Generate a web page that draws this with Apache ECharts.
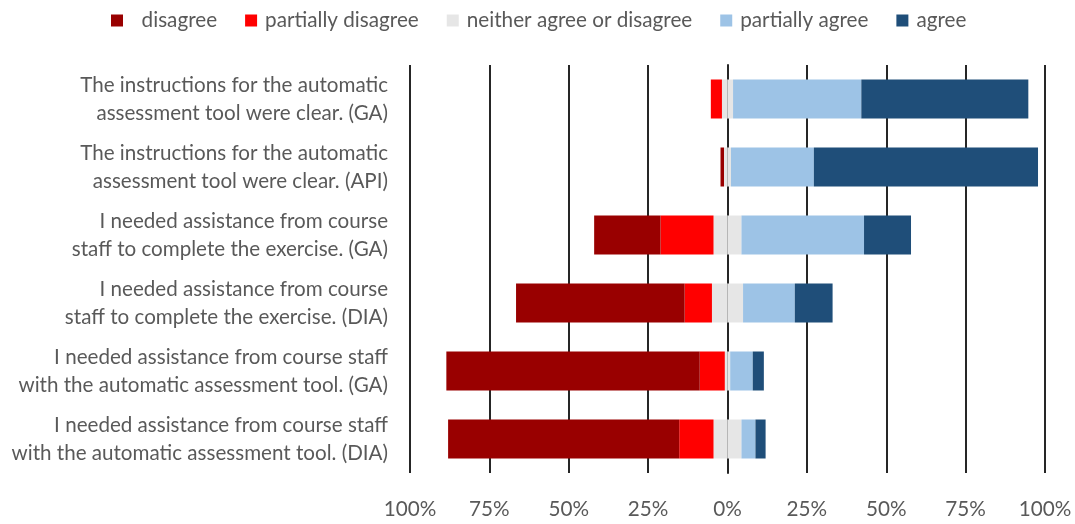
<!DOCTYPE html>
<html>
<head>
<meta charset="utf-8">
<script src="https://cdn.jsdelivr.net/npm/echarts@6/dist/echarts.min.js"></script>
<style>
  html, body { margin: 0; padding: 0; background: #fff; }
  #chart { width: 1075px; height: 524px; }
</style>
</head>
<body>
<div id="chart"></div>
<script>
// 类别（问卷题目）
const categories = [
  'The instructions for the automatic\nassessment tool were clear. (GA)',
  'The instructions for the automatic\nassessment tool were clear. (API)',
  'I needed assistance from course\nstaff to complete the exercise. (GA)',
  'I needed assistance from course\nstaff to complete the exercise. (DIA)',
  'I needed assistance from course staff\nwith the automatic assessment tool. (GA)',
  'I needed assistance from course staff\nwith the automatic assessment tool. (DIA)'
];

// 各回答比例（%）
const disagree = [0, 1.1, 20.9, 53.1, 79.8, 72.8];
const partiallyDisagree = [3.5, 0, 16.7, 8.6, 7.9, 10.8];
const neutral = [3.5, 2.2, 8.8, 9.8, 1.7, 8.8];
const partiallyAgree = [40.4, 26.1, 38.6, 16.3, 7.1, 4.4];
const agree = [52.6, 70.6, 14.8, 11.9, 3.5, 3.2];

const xTicks = { min: -100, max: 100, interval: 25 };

const colors = {
  disagree: '#990000',
  partiallyDisagree: '#ff0000',
  neutral: '#e6e6e6',
  partiallyAgree: '#9dc3e6',
  agree: '#1f4e79'
};

const FONT = 'Lato';
const TEXT = '#595959';
const GRID = '#262626';

const DISAGREE_NAME = '  disagree';
const NEUTRAL_NAME = 'neither agree or disagree';

// 负方向取负值，中立拆成两半
const neg = arr => arr.map(v => -v);
const half = arr => arr.map(v => v / 2);

const barBase = {
  type: 'bar',
  stack: 'likert',
  barWidth: 39,
  emphasis: { disabled: true }
};

const chart = echarts.init(document.getElementById('chart'));

chart.setOption({
  animation: false,
  legend: {
    top: 5,
    left: 106,
    itemWidth: 12,
    itemHeight: 12,
    itemGap: 28,
    icon: 'rect',
    data: [DISAGREE_NAME, 'partially disagree', NEUTRAL_NAME, 'partially agree', 'agree'],
    textStyle: { fontFamily: FONT, fontSize: 20.7, color: TEXT, padding: [0, 0, 0, 3] }
  },
  grid: {
    left: 410,
    right: 30,
    top: 65,
    bottom: 51,
    containLabel: false
  },
  xAxis: {
    type: 'value',
    min: xTicks.min,
    max: xTicks.max,
    interval: xTicks.interval,
    axisLine: { show: false },
    axisTick: { show: false },
    splitLine: { show: true, lineStyle: { color: GRID, width: 2 } },
    axisLabel: {
      margin: 26,
      fontFamily: FONT,
      fontSize: 20.7,
      color: TEXT,
      formatter: v => Math.abs(v) + '%'
    }
  },
  yAxis: {
    type: 'category',
    inverse: true,
    data: categories,
    axisLine: { show: true, lineStyle: { color: GRID, width: 2 } },
    axisTick: { show: false },
    axisLabel: {
      margin: 22,
      fontFamily: FONT,
      fontSize: 20.6,
      lineHeight: 28,
      color: TEXT,
      align: 'right'
    }
  },
  series: [
    // 负方向：先中立一半，再部分不同意，再不同意
    { ...barBase, name: NEUTRAL_NAME, data: neg(half(neutral)), itemStyle: { color: colors.neutral } },
    { ...barBase, name: 'partially disagree', data: neg(partiallyDisagree), itemStyle: { color: colors.partiallyDisagree } },
    { ...barBase, name: DISAGREE_NAME, data: neg(disagree), itemStyle: { color: colors.disagree } },
    // 正方向
    { ...barBase, name: NEUTRAL_NAME, data: half(neutral), itemStyle: { color: colors.neutral } },
    { ...barBase, name: 'partially agree', data: partiallyAgree, itemStyle: { color: colors.partiallyAgree } },
    { ...barBase, name: 'agree', data: agree, itemStyle: { color: colors.agree } }
  ]
});

window.addEventListener('resize', () => chart.resize());
</script>
</body>
</html>
